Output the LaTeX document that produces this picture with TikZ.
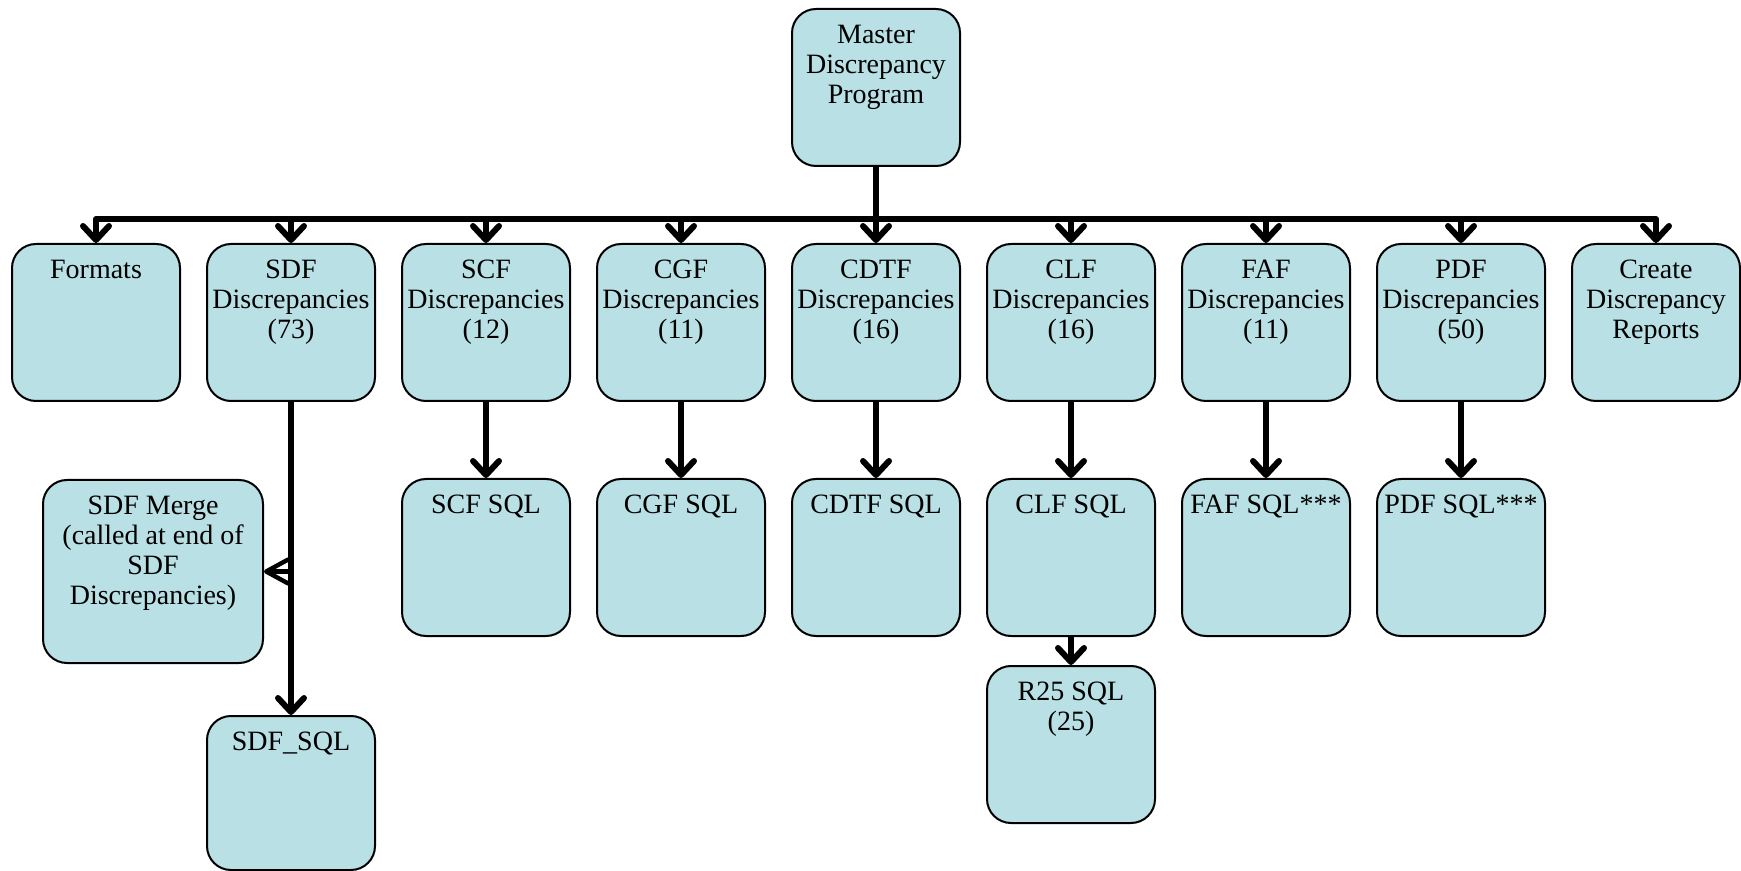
\documentclass[tikz,border=0pt]{standalone}
\usepackage{fontspec}
\setmainfont{Liberation Serif}
\usetikzlibrary{arrows.meta}
\definecolor{boxfill}{RGB}{185,224,228}
\tikzset{
  box/.style={draw=black, line width=1pt, fill=boxfill, rounded corners=12pt,
    minimum width=84pt, minimum height=78.5pt, inner sep=0pt, anchor=north},
  wide/.style={minimum width=110pt, minimum height=91.5pt},
  txt/.style={anchor=north, inner sep=0pt, align=center,
    font=\fontsize{14}{15}\selectfont, yshift=-8.25pt},
  conn/.style={line width=3pt, line join=round,
    -{Straight Barb[length=7pt,width=13pt,line cap=round,line join=round]}},
  thin/.style={line width=2.2pt,
    -{Straight Barb[length=11pt,width=12pt,line cap=round,line join=round]}}
}
\begin{document}
\begin{tikzpicture}[x=0.5pt,y=-0.5pt]
\useasboundingbox (0,0) rectangle (1741,871);
% boxes
\node[box] (master) at (876,8) {};
\node[box] (formats) at (96,243) {};
\node[box] (sdf) at (291,243) {};
\node[box] (scf) at (486,243) {};
\node[box] (cgf) at (681,243) {};
\node[box] (cdtf) at (876,243) {};
\node[box] (clf) at (1071,243) {};
\node[box] (faf) at (1266,243) {};
\node[box] (pdf) at (1461,243) {};
\node[box] (create) at (1656,243) {};
\node[box] (scfsql) at (486,478) {};
\node[box] (cgfsql) at (681,478) {};
\node[box] (cdtfsql) at (876,478) {};
\node[box] (clfsql) at (1071,478) {};
\node[box] (fafsql) at (1266,478) {};
\node[box] (pdfsql) at (1461,478) {};
\node[box] (r25) at (1071,665) {};
\node[box,wide] (merge) at (153,479) {};
\node[box,minimum height=77pt] (sdfsql) at (291,715) {};
% texts
\node[txt] (masterT) at (master.north) {Master\\Discrepancy\\Program};
\node[txt] (formatsT) at (formats.north) {Formats};
\node[txt] (sdfT) at (sdf.north) {SDF\\Discrepancies\\(73)};
\node[txt] (scfT) at (scf.north) {SCF\\Discrepancies\\(12)};
\node[txt] (cgfT) at (cgf.north) {CGF\\Discrepancies\\(11)};
\node[txt] (cdtfT) at (cdtf.north) {CDTF\\Discrepancies\\(16)};
\node[txt] (clfT) at (clf.north) {CLF\\Discrepancies\\(16)};
\node[txt] (fafT) at (faf.north) {FAF\\Discrepancies\\(11)};
\node[txt] (pdfT) at (pdf.north) {PDF\\Discrepancies\\(50)};
\node[txt] (createT) at (create.north) {Create\\Discrepancy\\Reports};
\node[txt] (scfsqlT) at (scfsql.north) {SCF SQL};
\node[txt] (cgfsqlT) at (cgfsql.north) {CGF SQL};
\node[txt] (cdtfsqlT) at (cdtfsql.north) {CDTF SQL};
\node[txt] (clfsqlT) at (clfsql.north) {CLF SQL};
\node[txt] (fafsqlT) at (fafsql.north) {FAF SQL***};
\node[txt] (pdfsqlT) at (pdfsql.north) {PDF SQL***};
\node[txt] (r25T) at (r25.north) {R25 SQL\\(25)};
\node[txt] (mergeT) at (merge.north) {SDF Merge\\(called at end of\\SDF\\Discrepancies)};
\node[txt] (sdfsqlT) at (sdfsql.north) {SDF\_SQL};
% bus connectors
\coordinate (bus) at (876,219);
\foreach \t in {formats,sdf,scf,cgf,cdtf,clf,faf,pdf,create}
  \draw[conn] (master.south) -- (bus) -| (\t.north);
% vertical connectors
\draw[conn] (scf.south) -- (scfsql.north);
\draw[conn] (cgf.south) -- (cgfsql.north);
\draw[conn] (cdtf.south) -- (cdtfsql.north);
\draw[conn] (clf.south) -- (clfsql.north);
\draw[conn] (faf.south) -- (fafsql.north);
\draw[conn] (pdf.south) -- (pdfsql.north);
\draw[conn] (clfsql.south) -- (r25.north);
\draw[conn] (sdf.south) -- (sdfsql.north);
\coordinate (br) at (sdf.south |- merge.east);
\draw[thin] (br) -- (merge.east);
\end{tikzpicture}
\end{document}
